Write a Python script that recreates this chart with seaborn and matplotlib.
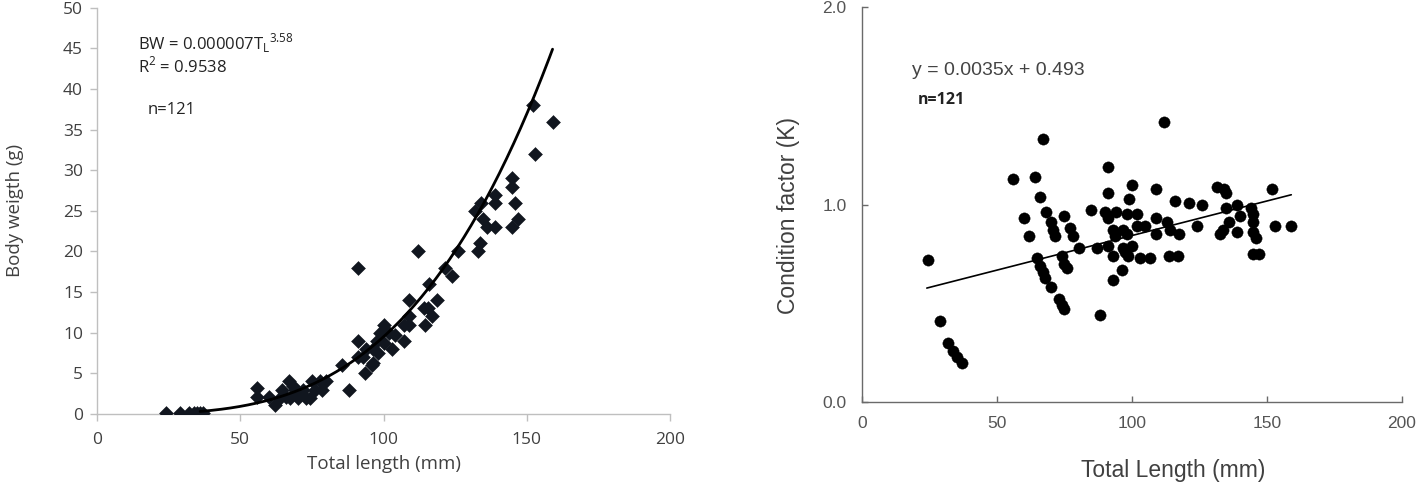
import matplotlib
matplotlib.use("Agg")
import matplotlib.pyplot as plt
import numpy as np
import pandas as pd
import seaborn as sns

# Length-weight data (left panel)
LW_LENGTH = [
    24, 29, 32, 34, 35, 36, 37,
    56, 56, 60, 62, 64, 64.5, 66, 67, 67.4, 68.5, 69, 70, 72, 73, 74.4,
    75, 76, 78, 78.5, 80, 85.5, 88, 91, 91, 93, 93.5, 94, 96, 96.5,
    96.5, 97.7, 98, 98.8, 100, 100, 102, 103, 104, 107, 107, 109, 109,
    109, 112, 114, 114.5, 115.5, 116, 117, 118.5, 121.5, 124, 126,
    132, 133, 133.7, 134, 134.7, 136, 139, 139, 139, 145, 145, 145,
    146, 147, 152, 153, 159, 91,
]
LW_WEIGHT = [
    0.1, 0.1, 0.1, 0.1, 0.1, 0.1, 0.1,
    3.2, 2.1, 2.1, 1.1, 2, 3, 2.1, 4.1, 2, 3.4, 3, 2, 3, 2, 2,
    4, 3, 4, 3, 4, 6, 3, 9, 7, 7, 5, 8, 6, 6.3,
    8, 9, 7.5, 10, 11, 8.7, 10, 8, 9.7, 11, 9, 14, 12,
    11, 20, 13, 11, 13, 16, 12, 14, 18, 17, 20,
    25, 20, 21, 26, 24, 23, 27, 26, 23, 29, 28, 23,
    26, 24, 38, 32, 36, 18,
]

# Power curve
CURVE_A = 1.895e-6
CURVE_B = 3.35
CURVE_RANGE = [36, 159]

# Condition factor data (right panel)
K_LENGTH = [
    24.4, 29, 32, 33.8, 35, 37,
    56, 60, 62, 64, 65, 66, 66, 67, 67, 67.8, 68, 70, 70, 70.8, 71.5,
    73, 74, 74, 74.8, 74.8, 75, 76, 77, 78, 80.4, 84.8, 87, 88,
    90, 91, 91, 91, 91, 93, 93, 93, 93.7, 94, 96.3, 96.7, 96.7,
    97.4, 98, 98, 98.6, 99, 100, 100, 102, 102, 103, 105, 106.7,
    109, 109, 109, 112, 113, 113.7, 114, 116, 117, 117.5, 121,
    124, 126, 131.5, 132.6, 133.7, 134, 135, 135, 136, 139, 139,
    140, 144, 145, 145, 145, 145, 146, 147, 152, 153, 159,
]
K_FACTOR = [
    0.72, 0.41, 0.30, 0.26, 0.23, 0.20,
    1.13, 0.93, 0.84, 1.14, 0.73, 0.69, 1.04, 1.33, 0.66, 0.63, 0.96, 0.58, 0.91, 0.87, 0.84,
    0.52, 0.49, 0.74, 0.47, 0.94, 0.70, 0.68, 0.88, 0.84, 0.78, 0.97, 0.78, 0.44,
    0.96, 1.19, 1.06, 0.93, 0.79, 0.87, 0.74, 0.62, 0.84, 0.96, 0.67, 0.87, 0.78,
    0.76, 0.95, 0.85, 0.74, 1.03, 1.10, 0.79, 0.95, 0.89, 0.73, 0.89, 0.73,
    1.08, 0.93, 0.85, 1.42, 0.91, 0.74, 0.87, 1.02, 0.74, 0.85, 1.01,
    0.89, 1.00, 1.09, 0.85, 0.87, 1.08, 1.06, 0.98, 0.91, 1.00, 0.86,
    0.94, 0.98, 0.95, 0.91, 0.86, 0.75, 0.83, 0.75, 1.08, 0.89, 0.89,
]

# Linear trend
LINE_SLOPE = 0.0035
LINE_INTERCEPT = 0.493
LINE_RANGE = [24, 159]

ARIAL = ["Liberation Sans", "DejaVu Sans"]

sns.set_style("white")
plt.rcParams["font.family"] = ["Open Sans", "DejaVu Sans"]

fig = plt.figure(figsize=(14.22, 4.87), dpi=100)

# ---------- left panel ----------
ax1 = fig.add_axes([0.0682, 0.150, 0.403, 0.834])

lw = pd.DataFrame({"length": LW_LENGTH, "weight": LW_WEIGHT})
sns.scatterplot(
    data=lw, x="length", y="weight",
    marker="D", s=50, color="#11161f", edgecolor="#11161f",
    linewidth=0.4, ax=ax1, zorder=3
)

curve_x = np.linspace(CURVE_RANGE[0], CURVE_RANGE[1], 200)
curve = pd.DataFrame({"x": curve_x, "y": CURVE_A * curve_x ** CURVE_B})
sns.lineplot(data=curve, x="x", y="y", color="black", linewidth=2.0, ax=ax1, zorder=4)

ax1.set_xlim(0, 200)
ax1.set_ylim(0, 50)
ax1.set_xticks([0, 50, 100, 150, 200])
ax1.set_yticks(range(0, 51, 5))
for side in ["top", "right"]:
    ax1.spines[side].set_visible(False)
for side in ["left", "bottom"]:
    ax1.spines[side].set_color("#bfbfbf")
    ax1.spines[side].set_linewidth(1.0)
ax1.tick_params(direction="out", length=5, width=1.0, color="#bfbfbf",
                labelsize=12.5, labelcolor="#404040", left=True, bottom=True)
ax1.tick_params(axis="x", pad=8)
ax1.tick_params(axis="y", pad=5)
ax1.set_xlabel("Total length (mm)", fontsize=13.5, color="#404040", labelpad=5)
ax1.set_ylabel("Body weigth (g)", fontsize=13.5, color="#404040", labelpad=28)

ax1.text(14.3, 45.6, r"BW = 0.000007T$_\mathregular{L}$$^\mathregular{3.58}$",
         fontsize=12, color="#222222", va="center")
ax1.text(14.3, 42.8, r"R$^\mathregular{2}$ = 0.9538", fontsize=12,
         color="#222222", va="center")
ax1.text(17.8, 37.4, "n=121", fontsize=12, color="#222222", va="center")

# ---------- right panel ----------
ax2 = fig.add_axes([0.6062, 0.1745, 0.3797, 0.811])

kf = pd.DataFrame({"length": K_LENGTH, "k": K_FACTOR})
sns.scatterplot(
    data=kf, x="length", y="k",
    marker="o", s=66, color="black", edgecolor="black",
    linewidth=0.3, ax=ax2, zorder=3
)

line_x = np.array(LINE_RANGE, dtype=float)
line = pd.DataFrame({"x": line_x, "y": LINE_SLOPE * line_x + LINE_INTERCEPT})
sns.lineplot(data=line, x="x", y="y", color="black", linewidth=1.2, ax=ax2, zorder=4)

ax2.set_xlim(0, 200)
ax2.set_ylim(0, 2.0)
ax2.set_xticks([0, 50, 100, 150, 200])
ax2.set_yticks([0.0, 1.0, 2.0])
ax2.set_yticklabels(["0.0", "1.0", "2.0"])
for side in ["top", "right"]:
    ax2.spines[side].set_visible(False)
for side in ["left", "bottom"]:
    ax2.spines[side].set_color("#6a6a6a")
    ax2.spines[side].set_linewidth(1.0)
ax2.tick_params(direction="in", length=4, width=1.0, color="#6a6a6a",
                labelsize=12.5, labelcolor="#555555", left=True, bottom=True)
for lab in ax2.get_xticklabels() + ax2.get_yticklabels():
    lab.set_family(ARIAL)
ax2.tick_params(axis="x", pad=10)
ax2.tick_params(axis="y", pad=11)
ax2.set_xlabel("Total Length (mm)", fontsize=16.5, color="#404040", family=ARIAL)
ax2.set_ylabel("Condition factor (K)", fontsize=16.5, color="#404040", family=ARIAL)
ax2.xaxis.set_label_coords(0.576, -0.145)
ax2.yaxis.set_label_coords(-0.115, 0.473)

ax2.text(18.5, 1.68, "y = 0.0035x + 0.493", fontsize=14, color="#444444",
         va="center", family=ARIAL)
ax2.text(20.5, 1.53, "n=121", fontsize=11.5, color="#222222", fontweight="bold",
         va="center")

fig.savefig("out.png", dpi=100)
plt.close(fig)
